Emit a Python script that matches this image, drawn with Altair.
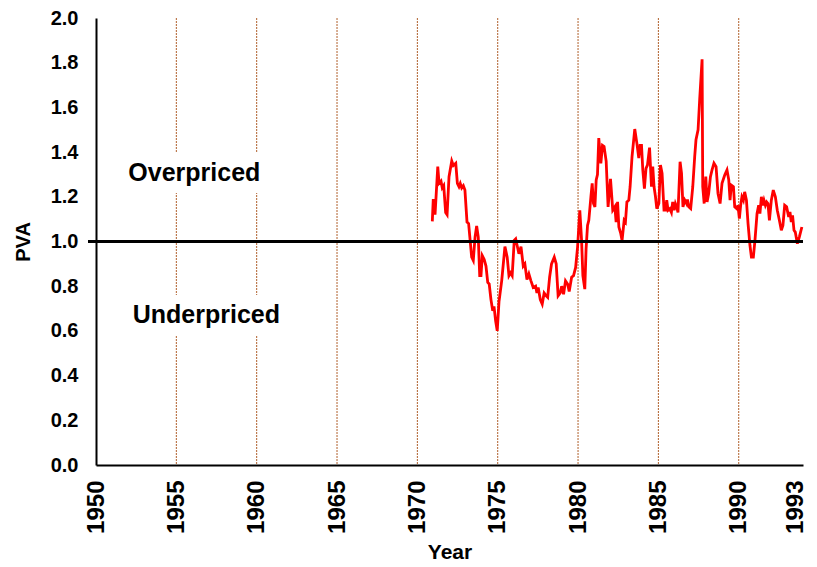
import altair as alt
import pandas as pd

# PVA series (year, value)
years = [
    1970.93, 1970.99, 1971.10, 1971.27, 1971.35, 1971.47, 1971.55, 1971.64, 1971.76, 1971.85,
    1971.97, 1972.14, 1972.24, 1972.39, 1972.49, 1972.59, 1972.67, 1972.76, 1972.86, 1972.96,
    1973.09, 1973.19, 1973.38, 1973.48, 1973.59, 1973.69, 1973.79, 1973.88, 1973.96, 1974.04,
    1974.16, 1974.27, 1974.38, 1974.47, 1974.58, 1974.69, 1974.77, 1974.87, 1974.97, 1975.08,
    1975.25, 1975.45, 1975.59, 1975.70, 1975.80, 1975.90, 1976.03, 1976.12, 1976.32, 1976.45,
    1976.59, 1976.69, 1976.82, 1976.94, 1977.07, 1977.21, 1977.36, 1977.44, 1977.52, 1977.65,
    1977.77, 1977.89, 1978.02, 1978.11, 1978.23, 1978.35, 1978.52, 1978.64, 1978.76, 1978.89,
    1978.98, 1979.10, 1979.22, 1979.35, 1979.45, 1979.60, 1979.72, 1979.85, 1979.97, 1980.11,
    1980.22, 1980.30, 1980.42, 1980.50, 1980.59, 1980.67, 1980.80, 1980.88, 1980.96, 1981.05,
    1981.13, 1981.21, 1981.29, 1981.42, 1981.52, 1981.62, 1981.75, 1981.87, 1982.02, 1982.16,
    1982.29, 1982.37, 1982.46, 1982.54, 1982.66, 1982.74, 1982.87, 1982.95, 1983.04, 1983.16,
    1983.24, 1983.36, 1983.53, 1983.66, 1983.78, 1983.86, 1983.95, 1984.03, 1984.13, 1984.23,
    1984.32, 1984.45, 1984.57, 1984.65, 1984.73, 1984.82, 1984.90, 1985.03, 1985.13, 1985.23,
    1985.35, 1985.44, 1985.52, 1985.60, 1985.71, 1985.81, 1985.89, 1985.98, 1986.06, 1986.14,
    1986.22, 1986.35, 1986.44, 1986.53, 1986.64, 1986.75, 1986.81, 1986.89, 1987.01, 1987.14,
    1987.26, 1987.34, 1987.47, 1987.57, 1987.72, 1987.76, 1987.85, 1987.95, 1988.03, 1988.13,
    1988.24, 1988.34, 1988.46, 1988.59, 1988.71, 1988.84, 1988.96, 1989.13, 1989.27, 1989.38,
    1989.46, 1989.54, 1989.67, 1989.75, 1989.87, 1989.95, 1990.04, 1990.12, 1990.20, 1990.29,
    1990.37, 1990.48, 1990.58, 1990.70, 1990.79, 1990.91, 1991.01, 1991.14, 1991.24, 1991.32,
    1991.41, 1991.49, 1991.57, 1991.66, 1991.74, 1991.82, 1991.91, 1992.03, 1992.15, 1992.28,
    1992.40, 1992.53, 1992.65, 1992.75, 1992.86, 1992.98, 1993.11, 1993.19, 1993.27, 1993.35,
    1993.44, 1993.52, 1993.65, 1993.77, 1993.93,
]
pva = [
    1.09, 1.19, 1.12, 1.335, 1.26, 1.27, 1.24, 1.25, 1.13, 1.12,
    1.29, 1.36, 1.34, 1.35, 1.26, 1.245, 1.26, 1.24, 1.25, 1.23,
    1.087, 1.08, 0.93, 0.915, 1.02, 1.07, 1.02, 0.847, 0.847, 0.937,
    0.92, 0.89, 0.817, 0.81, 0.74, 0.69, 0.71, 0.645, 0.60, 0.73,
    0.825, 0.977, 0.93, 0.847, 0.86, 0.847, 1.005, 1.012, 0.945, 0.977,
    0.89, 0.90, 0.83, 0.855, 0.824, 0.794, 0.80, 0.77, 0.794, 0.74,
    0.72, 0.77, 0.757, 0.75, 0.84, 0.90, 0.93, 0.90, 0.757, 0.77,
    0.80, 0.764, 0.824, 0.81, 0.776, 0.84, 0.847, 0.884, 0.974, 1.14,
    1.005, 0.847, 0.787, 0.967, 1.072, 1.095, 1.20, 1.26, 1.17, 1.155,
    1.275, 1.30, 1.463, 1.35, 1.43, 1.425, 1.36, 1.155, 1.28, 1.14,
    1.155, 1.087, 1.177, 1.065, 1.035, 1.005, 1.095, 1.087, 1.177, 1.185,
    1.245, 1.38, 1.503, 1.44, 1.373, 1.43, 1.43, 1.32, 1.237, 1.327,
    1.342, 1.42, 1.245, 1.335, 1.245, 1.20, 1.147, 1.17, 1.342, 1.305,
    1.14, 1.14, 1.185, 1.14, 1.147, 1.13, 1.177, 1.14, 1.17, 1.155,
    1.13, 1.357, 1.305, 1.155, 1.185, 1.17, 1.188, 1.155, 1.147, 1.245,
    1.38, 1.455, 1.50, 1.635, 1.815, 1.245, 1.17, 1.29, 1.177, 1.215,
    1.29, 1.32, 1.35, 1.335, 1.215, 1.17, 1.26, 1.297, 1.32, 1.275,
    1.185, 1.252, 1.245, 1.155, 1.147, 1.162, 1.102, 1.162, 1.20, 1.185,
    1.222, 1.185, 1.08, 0.982, 0.93, 0.93, 1.005, 1.125, 1.162, 1.125,
    1.20, 1.162, 1.185, 1.162, 1.177, 1.17, 1.095, 1.185, 1.23, 1.20,
    1.14, 1.095, 1.05, 1.072, 1.162, 1.155, 1.11, 1.132, 1.087, 1.117,
    1.05, 1.042, 0.99, 1.02, 1.065,
]

grid_years = [1955, 1960, 1965, 1970, 1975, 1980, 1985, 1990]
x_tick_values = [1950, 1955, 1960, 1965, 1970, 1975, 1980, 1985, 1990, 1993.55]
y_tick_values = [0.0, 0.2, 0.4, 0.6, 0.8, 1.0, 1.2, 1.4, 1.6, 1.8, 2.0]

label_text = ["Overpriced", "Underpriced"]
label_year = [1956.12, 1956.87]
label_value = [1.306, 0.671]

reference_level = [1.0]

W, H = 707, 447
FONT = "Liberation Sans"

df = pd.DataFrame({"year": years, "pva": pva})
grid_df = pd.DataFrame({"year": grid_years})
label_df = pd.DataFrame({"text": label_text, "year": label_year, "pva": label_value})
ref_df = pd.DataFrame({"pva": reference_level})

xscale = alt.Scale(domain=[1950, 1994], nice=False, zero=False)
yscale = alt.Scale(domain=[0, 2], nice=False, zero=False)

x_axis = alt.Axis(
    values=x_tick_values, format="d",
    labelExpr="datum.value > 1991 ? '1993' : datum.label",
    labelAngle=270, labelFont=FONT, labelFontWeight="bold", labelFontSize=24,
    labelColor="black", labelPadding=15, labelFlush=False, labelOverlap=False,
    ticks=False, grid=False, domainColor="black", domainWidth=2,
    title="Year", titleFont=FONT, titleFontWeight="bold", titleFontSize=21,
    titleColor="black", titlePadding=8,
)
y_axis = alt.Axis(
    values=y_tick_values, format=".1f",
    labelFont=FONT, labelFontWeight="bold", labelFontSize=20, labelColor="black",
    labelPadding=18, labelFlush=False, labelOverlap=False,
    ticks=False, grid=False, domainColor="black", domainWidth=2,
    title="PVA", titleFont=FONT, titleFontWeight="bold", titleFontSize=20,
    titleColor="black", titlePadding=17,
)

X = alt.X("year:Q", scale=xscale, axis=x_axis)
Y = alt.Y("pva:Q", scale=yscale, axis=y_axis)

grid = alt.Chart(grid_df).mark_rule(color="#b0602c", strokeDash=[2, 1], strokeWidth=1).encode(
    x=X, y=alt.value(0), y2=alt.value(H),
)

boxes = alt.Chart(label_df).mark_point(
    shape="M-4,-1H4V1H-4Z", size=1600, filled=True, fill="white", opacity=1, strokeWidth=0,
).encode(x=X, y=Y)

texts = alt.Chart(label_df).mark_text(
    font=FONT, fontWeight="bold", fontSize=25, color="black", align="center", baseline="middle",
).encode(x=X, y=Y, text="text:N")

line = alt.Chart(df).mark_line(color="#ff0000", strokeWidth=2.8).encode(x=X, y=Y)

ref = alt.Chart(ref_df).mark_rule(color="black", strokeWidth=3).encode(
    y=Y, x=alt.value(-8), x2=alt.value(W),
)

chart = alt.layer(grid, boxes, texts, line, ref).properties(
    width=W, height=H,
    autosize=alt.AutoSizeParams(type="none"),
    padding={"left": 88, "top": 10, "right": 5, "bottom": 101},
    background="white",
).configure_view(stroke=None)

chart.save("out.html", embed_options={"renderer": "svg", "actions": False})
